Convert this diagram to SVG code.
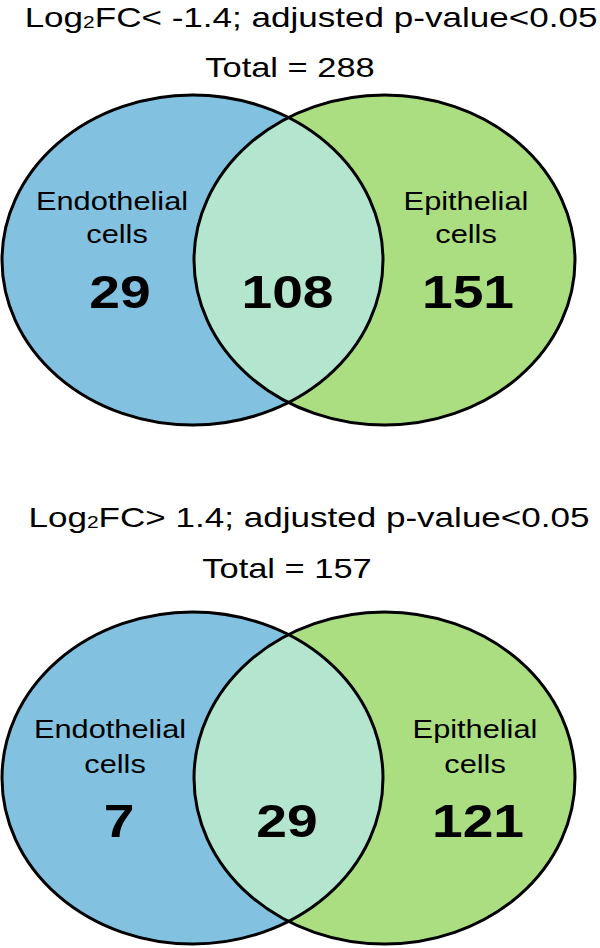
<svg xmlns="http://www.w3.org/2000/svg" width="600" height="948" viewBox="0 0 600 948">
<style>
.t{font-family:"Liberation Sans",Arial,sans-serif;fill:#000;text-anchor:middle}
.title{font-size:28.5px}
.lab{font-size:25px}
.num{font-size:46px;font-weight:bold}
.blue{fill:#82C2E0}
.green{fill:#ABDE80}
.mint{fill:#B3E5CF}
.edge{fill:none;stroke:#000;stroke-width:3}
</style>
<defs>
<clipPath id="clipA"><ellipse cx="192.5" cy="260" rx="190.5" ry="165"/></clipPath>
<clipPath id="clipB"><ellipse cx="192.5" cy="778" rx="190.5" ry="166"/></clipPath>
</defs>
<rect width="600" height="948" fill="#fff"/>

<g id="top-title">
<text class="t title" transform="translate(311,27) scale(1.23,1)">Log<tspan font-size="17" dy="1">2</tspan><tspan dy="-1">FC&lt; -1.4; adjusted p-value&lt;0.05</tspan></text>
<text class="t title" transform="translate(290,76.5) scale(1.23,1)" style="font-size:28px">Total = 288</text>
</g>

<g id="top-endothelial">
<ellipse class="blue" cx="192.5" cy="260" rx="190.5" ry="165"/>
</g>
<g id="top-epithelial">
<ellipse class="green" cx="384.5" cy="260" rx="190.5" ry="165"/>
</g>
<g id="top-overlap">
<ellipse class="mint" cx="384.5" cy="260" rx="190.5" ry="165" clip-path="url(#clipA)"/>
</g>
<g id="top-edges">
<ellipse class="edge" cx="192.5" cy="260" rx="190.5" ry="165"/>
<ellipse class="edge" cx="384.5" cy="260" rx="190.5" ry="165"/>
</g>
<g id="top-labels">
<text class="t lab" transform="translate(112,210) scale(1.23,1)">Endothelial</text>
<text class="t lab" transform="translate(117,243) scale(1.23,1)">cells</text>
<text class="t num" transform="translate(120,308) scale(1.2,1)">29</text>
<text class="t num" transform="translate(287.5,308) scale(1.2,1)">108</text>
<text class="t lab" transform="translate(466,210) scale(1.23,1)">Epithelial</text>
<text class="t lab" transform="translate(466,243) scale(1.23,1)">cells</text>
<text class="t num" transform="translate(468,308) scale(1.2,1)">151</text>
</g>

<g id="bottom-title">
<text class="t title" transform="translate(309,526.5) scale(1.23,1)">Log<tspan font-size="17" dy="1">2</tspan><tspan dy="-1">FC&gt; 1.4; adjusted p-value&lt;0.05</tspan></text>
<text class="t title" transform="translate(287,578) scale(1.23,1)" style="font-size:28px">Total = 157</text>
</g>

<g id="bottom-endothelial">
<ellipse class="blue" cx="192.5" cy="778" rx="190.5" ry="166"/>
</g>
<g id="bottom-epithelial">
<ellipse class="green" cx="384.5" cy="778" rx="190.5" ry="166"/>
</g>
<g id="bottom-overlap">
<ellipse class="mint" cx="384.5" cy="778" rx="190.5" ry="166" clip-path="url(#clipB)"/>
</g>
<g id="bottom-edges">
<ellipse class="edge" cx="192.5" cy="778" rx="190.5" ry="166"/>
<ellipse class="edge" cx="384.5" cy="778" rx="190.5" ry="166"/>
</g>
<g id="bottom-labels">
<text class="t lab" transform="translate(110,738) scale(1.23,1)">Endothelial</text>
<text class="t lab" transform="translate(115,773) scale(1.23,1)">cells</text>
<text class="t num" transform="translate(119,837) scale(1.2,1)">7</text>
<text class="t num" transform="translate(287,837) scale(1.2,1)">29</text>
<text class="t lab" transform="translate(475,738) scale(1.23,1)">Epithelial</text>
<text class="t lab" transform="translate(475,773) scale(1.23,1)">cells</text>
<text class="t num" transform="translate(478,837) scale(1.2,1)">121</text>
</g>
</svg>
